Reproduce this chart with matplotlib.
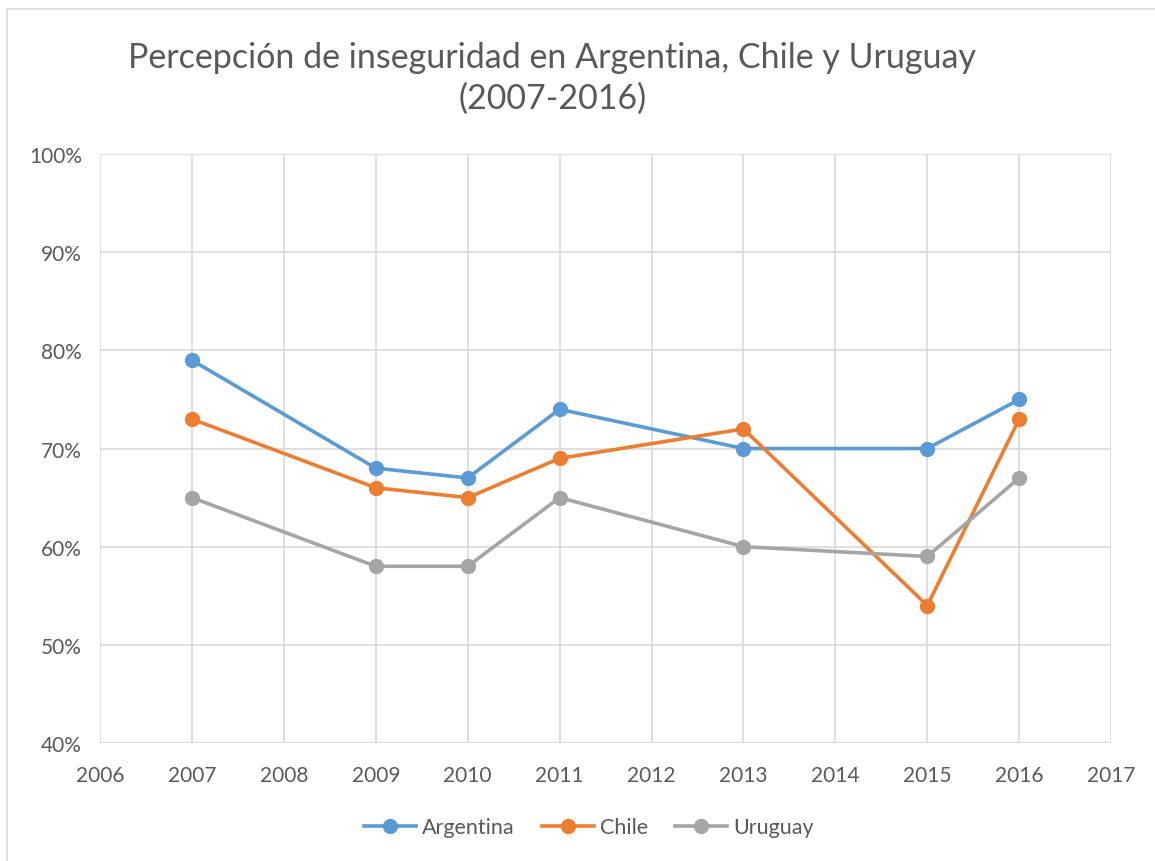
import matplotlib.pyplot as plt
from matplotlib.patches import Rectangle
from matplotlib.ticker import FuncFormatter

plt.rcParams['font.family'] = ['Lato', 'DejaVu Sans']

years = [2007, 2009, 2010, 2011, 2013, 2015, 2016]
argentina = [79, 68, 67, 74, 70, 70, 75]
chile = [73, 66, 65, 69, 72, 54, 73]
uruguay = [65, 58, 58, 65, 60, 59, 67]

series = [("Argentina", argentina, "#5B9BD5"),
          ("Chile", chile, "#ED7D31"),
          ("Uruguay", uruguay, "#A5A5A5")]

txt = "#595959"
grid = "#D9D9D9"

fig = plt.figure(figsize=(11.55, 8.62), dpi=100)
ax = fig.add_axes([0.0866, 0.137, 0.8754, 0.683])

# outer chart border
fig.patches.append(Rectangle((0.006, -0.01), 1.1, 0.998, transform=fig.transFigure,
                             fill=False, edgecolor=grid, linewidth=1.2))

for name, vals, col in series:
    ax.plot(years, vals, color=col, linewidth=2.6, marker="o", markersize=10,
            label=name, zorder=3)

ax.set_xlim(2006, 2017)
ax.set_ylim(40, 100)
ax.set_xticks(range(2006, 2018))
ax.set_yticks(range(40, 101, 10))
ax.yaxis.set_major_formatter(FuncFormatter(lambda v, p: f"{v:.0f}%"))
ax.grid(True, color=grid, linewidth=1.2, zorder=0)
for s in ax.spines.values():
    s.set_visible(False)
ax.axhline(40, color=grid, linewidth=1.5, zorder=1)
ax.tick_params(length=0, labelsize=15, colors=txt, pad=16)
ax.tick_params(axis="y", pad=13)

fig.text(0.478, 0.909, "Percepción de inseguridad en Argentina, Chile y Uruguay\n(2007-2016)",
         ha="center", va="center", fontsize=24.5, color=txt, linespacing=1.3)

leg = fig.legend(loc="center", bbox_to_anchor=(0.51, 0.039), ncol=3, frameon=False,
                 fontsize=15.5, handlelength=2.4, columnspacing=1.25, handletextpad=0.3)
for t in leg.get_texts():
    t.set_color(txt)

fig.savefig("out.png", dpi=100)
